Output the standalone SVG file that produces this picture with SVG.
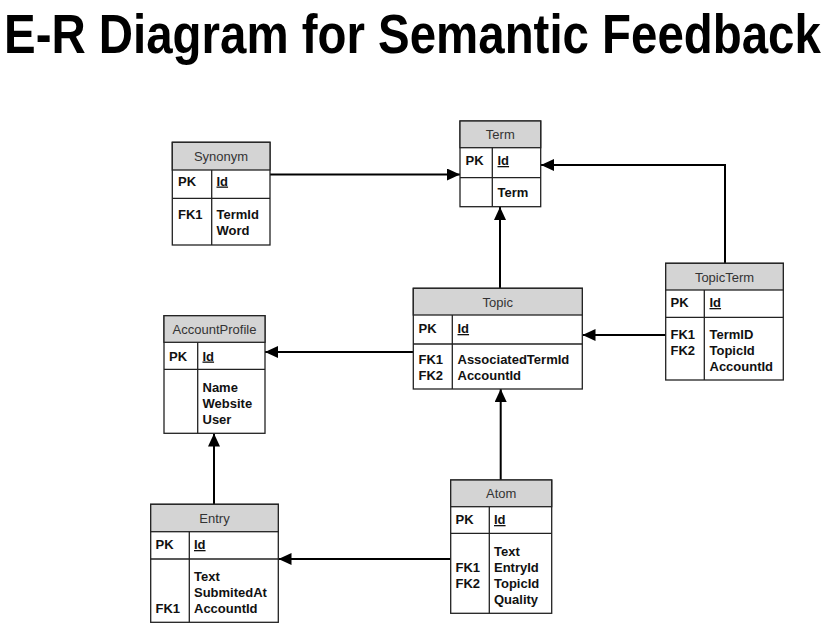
<svg xmlns="http://www.w3.org/2000/svg" width="828" height="623" viewBox="0 0 828 623">
<style>
.box{fill:#fff;stroke:#222;stroke-width:1.3}
.hdr{fill:#d4d4d4;stroke:#222;stroke-width:1.3}
.ln{stroke:#222;stroke-width:1.3;fill:none}
.ht{font-family:"Liberation Sans",Arial,sans-serif;font-size:13px;fill:#333;text-anchor:middle}
.bt{font-family:"Liberation Sans",Arial,sans-serif;font-size:13px;font-weight:bold;fill:#111}
.u{text-decoration:underline}
.con{stroke:#000;stroke-width:2;fill:none;marker-end:url(#ah)}
.title{font-family:"Liberation Sans",Arial,sans-serif;font-size:56px;font-weight:bold;fill:#000}
</style>
<defs>
<marker id="ah" markerUnits="userSpaceOnUse" markerWidth="14" markerHeight="12" refX="13" refY="6" orient="auto">
<path d="M0,0 L13,6 L0,12 z" fill="#000"/>
</marker>
</defs>
<rect width="828" height="623" fill="#fff"/>
<text class="title" transform="translate(4,53) scale(0.847,1)" x="0" y="0">E-R Diagram for Semantic Feedback</text>

<g id="connectors">
<path class="con" d="M270,174.5 H460"/>
<path class="con" d="M725,263 V165 H541"/>
<path class="con" d="M500,288 V207"/>
<path class="con" d="M666,335 H582.5"/>
<path class="con" d="M413,352 H265"/>
<path class="con" d="M214,504 V433.5"/>
<path class="con" d="M500.7,480 V389"/>
<path class="con" d="M451,559 H278.5"/>
</g>

<g id="Synonym">
<rect class="box" x="172.3" y="142.3" width="97.7" height="102.7"/>
<rect class="hdr" x="172.3" y="142.3" width="97.7" height="27.7"/>
<line class="ln" x1="172.3" y1="198.3" x2="270" y2="198.3"/>
<line class="ln" x1="211.7" y1="170" x2="211.7" y2="245"/>
<text class="ht" x="221" y="161">Synonym</text>
<text class="bt" x="178" y="185.5">PK</text>
<text class="bt u" x="216.5" y="185.5">Id</text>
<text class="bt" x="178" y="219">FK1</text>
<text class="bt" x="216.5" y="219">TermId</text>
<text class="bt" x="216.5" y="234.5">Word</text>
</g>

<g id="Term">
<rect class="box" x="460" y="121" width="80.7" height="85.7"/>
<rect class="hdr" x="460" y="121" width="80.7" height="26.7"/>
<line class="ln" x1="460" y1="177.7" x2="540.7" y2="177.7"/>
<line class="ln" x1="492.3" y1="147.7" x2="492.3" y2="206.7"/>
<text class="ht" x="500.3" y="139">Term</text>
<text class="bt" x="465.5" y="165">PK</text>
<text class="bt u" x="497.5" y="165">Id</text>
<text class="bt" x="497.5" y="197">Term</text>
</g>

<g id="Topic">
<rect class="box" x="413.3" y="288.3" width="169" height="100.7"/>
<rect class="hdr" x="413.3" y="288.3" width="169" height="26.7"/>
<line class="ln" x1="413.3" y1="344" x2="582.3" y2="344"/>
<line class="ln" x1="452.3" y1="315" x2="452.3" y2="389"/>
<text class="ht" x="497.8" y="306.5">Topic</text>
<text class="bt" x="418.5" y="333">PK</text>
<text class="bt u" x="457.5" y="333">Id</text>
<text class="bt" x="418.5" y="364">FK1</text>
<text class="bt" x="418.5" y="380">FK2</text>
<text class="bt" x="457.5" y="364">AssociatedTermId</text>
<text class="bt" x="457.5" y="380">AccountId</text>
</g>

<g id="TopicTerm">
<rect class="box" x="665.7" y="263.3" width="117.6" height="116.7"/>
<rect class="hdr" x="665.7" y="263.3" width="117.6" height="26.7"/>
<line class="ln" x1="665.7" y1="317.3" x2="783.3" y2="317.3"/>
<line class="ln" x1="704.3" y1="290" x2="704.3" y2="380"/>
<text class="ht" x="724.5" y="281.5">TopicTerm</text>
<text class="bt" x="670.5" y="307">PK</text>
<text class="bt u" x="709.5" y="307">Id</text>
<text class="bt" x="670.5" y="339">FK1</text>
<text class="bt" x="670.5" y="355">FK2</text>
<text class="bt" x="709.5" y="339">TermID</text>
<text class="bt" x="709.5" y="355">TopicId</text>
<text class="bt" x="709.5" y="371">AccountId</text>
</g>

<g id="AccountProfile">
<rect class="box" x="164" y="315.7" width="101" height="117.6"/>
<rect class="hdr" x="164" y="315.7" width="101" height="26.6"/>
<line class="ln" x1="164" y1="369.3" x2="265" y2="369.3"/>
<line class="ln" x1="197.7" y1="342.3" x2="197.7" y2="433.3"/>
<text class="ht" x="214.5" y="333.5">AccountProfile</text>
<text class="bt" x="169" y="360.5">PK</text>
<text class="bt u" x="202.5" y="360.5">Id</text>
<text class="bt" x="202.5" y="391.5">Name</text>
<text class="bt" x="202.5" y="407.5">Website</text>
<text class="bt" x="202.5" y="423.5">User</text>
</g>

<g id="Entry">
<rect class="box" x="150.7" y="504.3" width="127.6" height="118"/>
<rect class="hdr" x="150.7" y="504.3" width="127.6" height="27.4"/>
<line class="ln" x1="150.7" y1="559" x2="278.3" y2="559"/>
<line class="ln" x1="189.3" y1="531.7" x2="189.3" y2="622.3"/>
<text class="ht" x="214.5" y="523">Entry</text>
<text class="bt" x="155.5" y="549">PK</text>
<text class="bt u" x="194" y="549">Id</text>
<text class="bt" x="194" y="581">Text</text>
<text class="bt" x="194" y="597">SubmitedAt</text>
<text class="bt" x="155.5" y="612.5">FK1</text>
<text class="bt" x="194" y="612.5">AccountId</text>
</g>

<g id="Atom">
<rect class="box" x="450.7" y="480" width="101" height="133.3"/>
<rect class="hdr" x="450.7" y="480" width="101" height="26.7"/>
<line class="ln" x1="450.7" y1="533.3" x2="551.7" y2="533.3"/>
<line class="ln" x1="489.3" y1="506.7" x2="489.3" y2="613.3"/>
<text class="ht" x="501.2" y="497.5">Atom</text>
<text class="bt" x="455.5" y="524">PK</text>
<text class="bt u" x="494" y="524">Id</text>
<text class="bt" x="494" y="556">Text</text>
<text class="bt" x="455.5" y="572">FK1</text>
<text class="bt" x="455.5" y="588">FK2</text>
<text class="bt" x="494" y="572">EntryId</text>
<text class="bt" x="494" y="588">TopicId</text>
<text class="bt" x="494" y="603.5">Quality</text>
</g>
</svg>
